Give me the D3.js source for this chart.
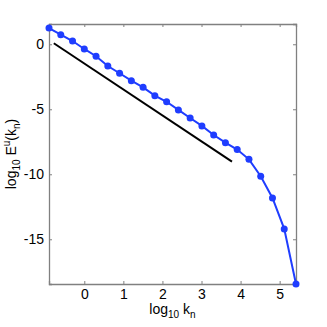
<!DOCTYPE html>
<html>
<head>
<meta charset="utf-8">
<script src="https://cdn.jsdelivr.net/npm/d3@7"></script>
<style>
  body { margin: 0; background: #fff; }
  svg { display: block; }
  text { font-family: "Liberation Sans Narrow", "Liberation Sans", Arial, sans-serif; fill: #000; }
</style>
</head>
<body>
<svg width="327" height="327"></svg>
<script>
// shell index n, k_n = 2^n / 8
const shellIndex = d3.range(0, 22);
const logK = shellIndex.map(n => (n - 3) * Math.log10(2));
// log10 E^u(k_n)
const logE = [1.25, 0.74, 0.25, -0.36, -0.92, -1.67, -2.23, -2.8, -3.31, -3.95, -4.42,
  -5.05, -5.67, -6.28, -6.98, -7.57, -8.1, -8.85, -10.15, -11.82, -14.2, -18.44];
// reference slope line
const refX = [-0.78, 3.78];
const refY = [0.08, -9.03];

const xTicks = [0, 1, 2, 3, 4, 5];
const yTicks = [0, -5, -10, -15];

const BlueColor = "#1f3dff";
const AxisColor = "#808080";

const margin = { left: 49, right: 31, top: 24, bottom: 43 };
const width = 327, height = 327;
const svg = d3.select("svg");

const x = d3.scaleLinear().domain([logK[0], logK[logK.length - 1]]).range([margin.left, width - margin.right]);
const y = d3.scaleLinear().domain([-18.44, 1.56]).range([height - margin.bottom, margin.top]);

// box + inward ticks
const tickLen = 3;
const g = svg.append("g");
g.append("g").attr("transform", `translate(0,${y.range()[0]})`)
  .call(d3.axisBottom(x).tickValues(xTicks).tickSize(-tickLen).tickPadding(5).tickFormat(d3.format("d")));
g.append("g").attr("transform", `translate(0,${y.range()[1]})`)
  .call(d3.axisTop(x).tickValues(xTicks).tickSize(-tickLen).tickFormat(""));
g.append("g").attr("transform", `translate(${x.range()[0]},0)`)
  .call(d3.axisLeft(y).tickValues(yTicks).tickSize(-tickLen).tickPadding(5).tickFormat(d => d3.format("d")(d).replace("−", "-")));
g.append("g").attr("transform", `translate(${x.range()[1]},0)`)
  .call(d3.axisRight(y).tickValues(yTicks).tickSize(-tickLen).tickFormat(""));

g.selectAll(".domain").attr("stroke", AxisColor).attr("stroke-width", 1.3);
g.selectAll(".tick line").attr("stroke", AxisColor);
g.selectAll(".tick text").style("font-size", "14px");

// reference line
svg.append("path")
  .attr("d", d3.line()([[x(refX[0]), y(refY[0])], [x(refX[1]), y(refY[1])]]))
  .attr("stroke", "#000").attr("stroke-width", 2).attr("fill", "none");

// spectrum
const pts = logK.map((k, i) => [k, logE[i]]);
svg.append("path")
  .datum(pts)
  .attr("d", d3.line().x(d => x(d[0])).y(d => y(d[1])))
  .attr("stroke", BlueColor).attr("stroke-width", 2).attr("fill", "none");
svg.append("g").selectAll("circle").data(pts).join("circle")
  .attr("cx", d => x(d[0])).attr("cy", d => y(d[1])).attr("r", 3.5)
  .attr("fill", BlueColor);

// axis labels
const xl = svg.append("text")
  .attr("x", (x.range()[0] + x.range()[1]) / 2).attr("y", 314)
  .attr("text-anchor", "middle").style("font-size", "14px");
xl.append("tspan").text("log");
xl.append("tspan").attr("dy", 4).style("font-size", "10px").text("10");
xl.append("tspan").attr("dy", -4).text(" k");
xl.append("tspan").attr("dy", 4).style("font-size", "10px").text("n");

const yl = svg.append("text")
  .attr("transform", `translate(16,${(y.range()[0] + y.range()[1]) / 2}) rotate(-90)`)
  .attr("text-anchor", "middle").style("font-size", "14px");
yl.append("tspan").text("log");
yl.append("tspan").attr("dy", 4).style("font-size", "10px").text("10");
yl.append("tspan").attr("dy", -4).text(" E");
yl.append("tspan").attr("dy", -6).style("font-size", "10px").text("u");
yl.append("tspan").attr("dy", 6).text("(k");
yl.append("tspan").attr("dy", 4).style("font-size", "10px").text("n");
yl.append("tspan").attr("dy", -4).text(")");
</script>
</body>
</html>
